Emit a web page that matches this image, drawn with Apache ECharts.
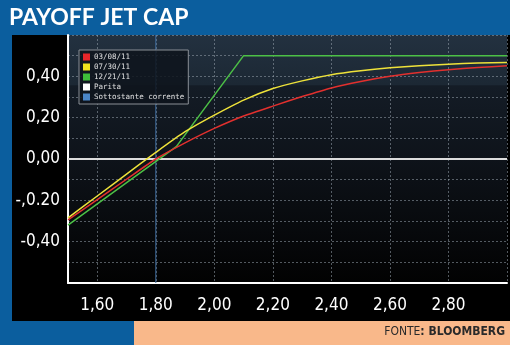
<!DOCTYPE html>
<html>
<head>
<meta charset="utf-8">
<script src="https://cdn.jsdelivr.net/npm/echarts@6/dist/echarts.min.js"></script>
<style>
  html, body { margin: 0; padding: 0; background: #0b5e9e; }
  #chart { width: 510px; height: 345px; }
</style>
</head>
<body>
<div id="chart"></div>
<script>
// Underlying price grid (x) shared by the two curved payoff profiles
const prices = [1.5, 1.6, 1.7, 1.8, 1.9, 2.0, 2.1, 2.2, 2.3, 2.4, 2.5, 2.6, 2.7, 2.8, 2.9, 3.0];
const payoff030811 = [-0.295, -0.197, -0.098, 0.000, 0.078, 0.148, 0.208, 0.256, 0.302, 0.344, 0.375, 0.400, 0.418, 0.432, 0.443, 0.451];
const payoff073011 = [-0.285, -0.179, -0.073, 0.032, 0.132, 0.212, 0.285, 0.341, 0.378, 0.408, 0.427, 0.441, 0.451, 0.459, 0.464, 0.467];
// Expiry profile: piecewise linear
const payoff122111X = [1.5, 1.87, 2.1, 3.0];
const payoff122111Y = [-0.32, 0.06, 0.50, 0.50];
// Reference lines
const parityLevel = 0;
const currentUnderlying = 1.80;

const seriesNames = ['03/08/11', '07/30/11', '12/21/11', 'Parita', 'Sottostante corrente'];

// Axis ticks and their printed labels
const xTickValues = [1.6, 1.8, 2.0, 2.2, 2.4, 2.6, 2.8];
const xTickLabels = ['1,60', '1,80', '2,00', '2,20', '2,40', '2,60', '2,80'];
const yTickValues = [0.4, 0.2, 0.0, -0.2, -0.4];
const yTickLabels = ['0,40', '0,20', '0,00', '-,0.20', '-0,40'];

const xMin = 1.5, xMax = 3.0, yMin = -0.6, yMax = 0.6;

function lookupLabel(values, labels, v) {
  for (let i = 0; i < values.length; i++) {
    if (Math.abs(values[i] - v) < 1e-6) return labels[i];
  }
  return '';
}
function pairs(xs, ys) { return xs.map((x, i) => [x, ys[i]]); }

const numFont = '"DejaVu Sans Condensed", "Liberation Sans Narrow", sans-serif';
const gridColor = 'rgba(150,160,172,0.55)';

const chart = echarts.init(document.getElementById('chart'), null, { renderer: 'canvas' });
chart.setOption({
  backgroundColor: '#0b5e9e',
  animation: false,
  title: {
    text: 'PAYOFF JET CAP',
    left: 4, top: 1,
    textStyle: { color: '#ffffff', fontSize: 23, fontWeight: 'bold', fontFamily: 'Lato, "Open Sans", sans-serif' }
  },
  graphic: [
    { type: 'rect', z: -10, shape: { x: 12, y: 35, width: 498, height: 286 }, style: { fill: '#000000' } },
    { type: 'rect', z: -10, shape: { x: 134, y: 321, width: 376, height: 24 }, style: { fill: '#f9b88a' } },
    {
      type: 'text', right: 5, top: 326, z: 10,
      style: {
        text: '{a|FONTE}{b|: BLOOMBERG}',
        rich: {
          a: { fontFamily: numFont, fontSize: 12, fill: '#2a2a2a' },
          b: { fontFamily: numFont, fontSize: 12, fontWeight: 'bold', fill: '#2a2a2a' }
        }
      }
    }
  ],
  legend: {
    orient: 'vertical',
    left: 79, top: 50,
    data: seriesNames,
    icon: 'rect',
    itemWidth: 7, itemHeight: 7, itemGap: 2,
    padding: [3, 4, 3, 4],
    backgroundColor: 'rgba(14,20,28,0.85)',
    borderColor: '#8a8f96', borderWidth: 1,
    textStyle: { color: '#e0e0e0', fontSize: 7.5, lineHeight: 8, fontFamily: '"DejaVu Sans Mono", monospace', padding: [0, 0, 0, -1] }
  },
  grid: {
    left: 68, right: 0, top: 35, bottom: 62,
    show: true, borderWidth: 0,
    backgroundColor: {
      type: 'linear', x: 0, y: 0, x2: 0, y2: 1,
      colorStops: [
        { offset: 0, color: '#233140' },
        { offset: 0.2, color: '#1c2834' },
        { offset: 0.205, color: '#141c26' },
        { offset: 0.5, color: '#0e131a' },
        { offset: 1, color: '#020202' }
      ]
    }
  },
  xAxis: {
    type: 'value', min: xMin, max: xMax, interval: 0.1,
    axisLine: { onZero: false, lineStyle: { color: '#ffffff', width: 2 } },
    axisTick: { show: false },
    axisLabel: {
      color: '#ffffff', fontSize: 17, fontFamily: numFont, margin: 14,
      formatter: v => lookupLabel(xTickValues, xTickLabels, v)
    },
    splitLine: { show: true, lineStyle: { color: ['rgba(0,0,0,0)', gridColor], type: [2, 2], width: 1 } }
  },
  yAxis: {
    type: 'value', min: yMin, max: yMax, interval: 0.1,
    axisLine: { show: true, lineStyle: { color: '#ffffff', width: 2 } },
    axisTick: { show: false },
    axisLabel: {
      color: '#ffffff', fontSize: 17, fontFamily: numFont, margin: 8,
      formatter: v => lookupLabel(yTickValues, yTickLabels, v)
    },
    splitLine: { show: true, lineStyle: { color: gridColor, type: [2, 2], width: 1 } }
  },
  series: [
    {
      name: seriesNames[3], type: 'line', symbol: 'none', z: 2,
      data: [[xMin, parityLevel], [xMax, parityLevel]],
      itemStyle: { color: '#ffffff' },
      lineStyle: { color: '#dcdcdc', width: 2 }
    },
    {
      name: seriesNames[4], type: 'line', symbol: 'none', z: 2,
      data: [[currentUnderlying, yMin], [currentUnderlying, yMax]],
      itemStyle: { color: '#4a86c8' },
      lineStyle: { color: '#3f6d9e', width: 1 }
    },
    {
      name: seriesNames[2], type: 'line', symbol: 'none', z: 3,
      data: pairs(payoff122111X, payoff122111Y),
      itemStyle: { color: '#3fbf3a' },
      lineStyle: { color: '#4cc046', width: 1.5 }
    },
    {
      name: seriesNames[0], type: 'line', symbol: 'none', z: 4,
      smooth: 0.2,
      data: pairs(prices, payoff030811),
      itemStyle: { color: '#e8262a' },
      lineStyle: { color: '#e2302e', width: 1.5 }
    },
    {
      name: seriesNames[1], type: 'line', symbol: 'none', z: 4,
      smooth: 0.2,
      data: pairs(prices, payoff073011),
      itemStyle: { color: '#f0e21e' },
      lineStyle: { color: '#eee23a', width: 1.5 }
    }
  ]
});
</script>
</body>
</html>
